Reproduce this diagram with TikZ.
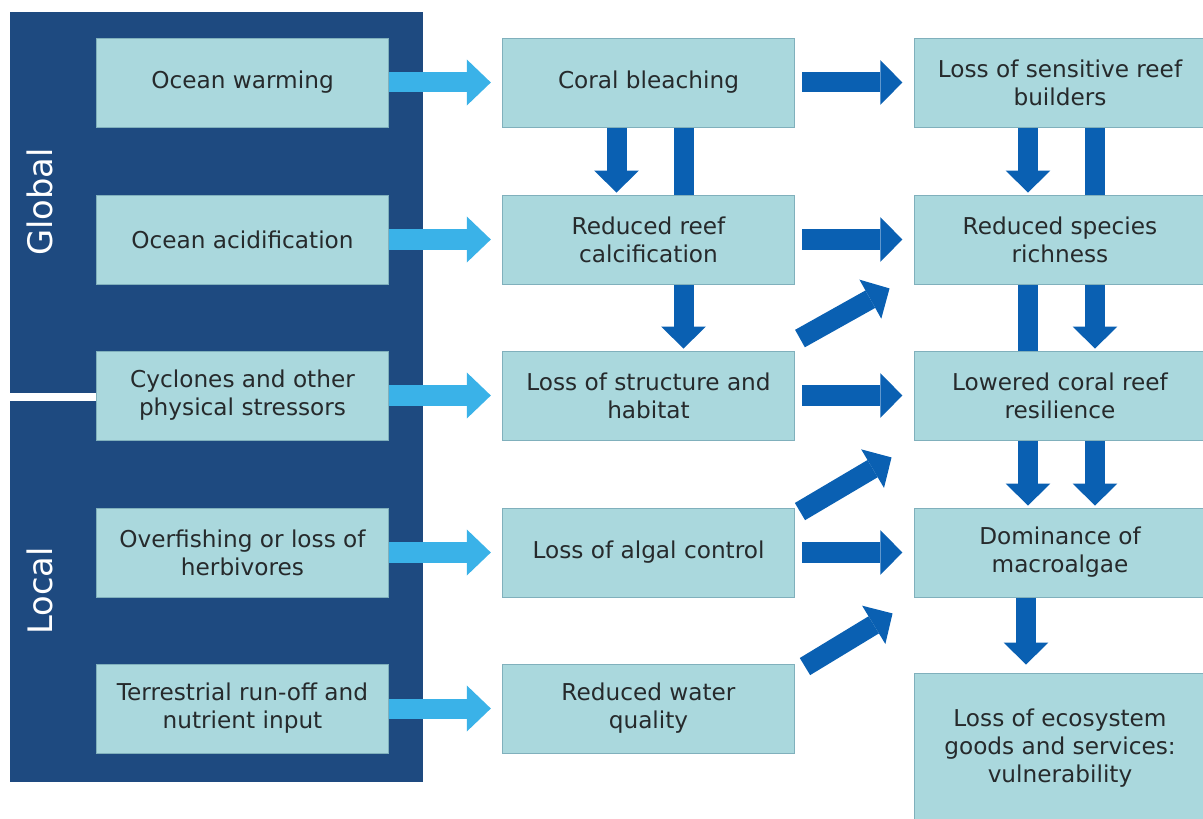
\documentclass[tikz,border=0pt]{standalone}
\usepackage{fontspec}
\setmainfont{DejaVu Sans}
\usetikzlibrary{arrows.meta, positioning, calc}
\pgfdeclarelayer{panels}
\pgfdeclarelayer{flows}
\pgfsetlayers{panels,flows,main}
\definecolor{panelblue}{RGB}{30,74,128}
\definecolor{boxfill}{RGB}{170,216,221}
\definecolor{boxline}{RGB}{128,176,188}
\definecolor{lightarrow}{RGB}{58,178,232}
\definecolor{darkarrow}{RGB}{10,96,178}
\definecolor{boxtext}{RGB}{38,42,44}

\begin{document}
\begin{tikzpicture}[x=0.025cm, y=-0.025cm,
    panel/.style={fill=panelblue, inner sep=0pt, anchor=north west, minimum width=10.325cm, minimum height=9.525cm},
    effect/.style={draw=boxline, line width=0.6pt, fill=boxfill, minimum width=7.3cm, minimum height=2.225cm, inner sep=0pt, align=center, text=boxtext, font=\fontsize{16.5}{20}\selectfont},
    sidelabel/.style={rotate=90, text=white, font=\fontsize{24}{28}\selectfont},
    lightflow/.style={draw=lightarrow, line width=0.5cm, -{Triangle[width=1.15cm, length=0.6cm, line width=0pt]}, shorten >=0.28cm},
    darkflow/.style={draw=darkarrow, line width=0.5cm, -{Triangle[width=1.12cm, length=0.55cm, line width=0pt]}}]
    \useasboundingbox (0,0) rectangle (1203,819);

    % Drivers
    \node [effect] (warm) at (242.5,82.5) {Ocean warming};
    \node [effect] (acid) at (242.5,239.5) {Ocean acidification};
    \node [effect] (cyclo) at (242.5,395.5) {Cyclones and other\\physical stressors};
    \node [effect] (fish) at (242.5,552.5) {Overfishing or loss of\\herbivores};
    \node [effect] (runoff) at (242.5,708.5) {Terrestrial run-off and\\nutrient input};

    % First effects
    \node [effect] (bleach) at (648.5,82.5) {Coral bleaching};
    \node [effect] (calc) at (648.5,239.5) {Reduced reef\\calcification};
    \node [effect] (struct) at (648.5,395.5) {Loss of structure and\\habitat};
    \node [effect] (algal) at (648.5,552.5) {Loss of algal control};
    \node [effect] (water) at (648.5,708.5) {Reduced water\\quality};

    % Reef outcomes
    \node [effect] (sens) at (1060,82.5) {Loss of sensitive reef\\builders};
    \node [effect] (rich) at (1060,239.5) {Reduced species\\richness};
    \node [effect] (resil) at (1060,395.5) {Lowered coral reef\\resilience};
    \node [effect] (domin) at (1060,552.5) {Dominance of\\macroalgae};
    \node [effect, minimum height=3.75cm] (goods) at (1060,748) {Loss of ecosystem\\goods and services:\\vulnerability};

    % Global / local panels
    \begin{pgfonlayer}{panels}
        \node [panel] (global) at (10,12) {};
        \node [panel] (local) at (10,401) {};
    \end{pgfonlayer}
    \node [sidelabel] (globaltxt) at (40,202) {Global};
    \node [sidelabel] (localtxt) at (40,591) {Local};

    \begin{pgfonlayer}{flows}
        \foreach \a/\b in {warm/bleach, acid/calc, cyclo/struct, fish/algal, runoff/water}
            \draw [lightflow] (\a.east) -- (\b.west);
        \foreach \a/\b in {bleach/sens, calc/rich, struct/resil, algal/domin}
            \draw [darkflow, shorten <=0.18cm, shorten >=0.28cm] (\a.east) -- (\b.west);

        % Down the columns
        \draw [darkflow, shorten >=0.05cm] ($(bleach.south)+(-32,0)$) -- ($(calc.north)+(-32,0)$);
        \draw [darkflow, shorten >=0.05cm] ($(bleach.south)+(35,0)$) -- ($(struct.north)+(35,0)$);
        \draw [darkflow, shorten >=0.05cm] ($(sens.south)+(-32,0)$) -- ($(rich.north)+(-32,0)$);
        \draw [darkflow, shorten >=0.05cm] ($(sens.south)+(35,0)$) -- ($(resil.north)+(35,0)$);
        \draw [darkflow, shorten >=0.05cm] ($(rich.south)+(-32,0)$) -- ($(domin.north)+(-32,0)$);
        \draw [darkflow, shorten >=0.05cm] ($(resil.south)+(35,0)$) -- ($(domin.north)+(35,0)$);
        \draw [darkflow, shorten >=0.2cm] ($(domin.south)+(-34,0)$) -- ($(goods.north)+(-34,0)$);

        % Diagonals
        \draw [darkflow] ($(struct.north east)+(5,-12)$) -- ($(rich.south west)+(-24,4)$);
        \draw [darkflow] ($(algal.north east)+(5,4)$) -- ($(resil.south west)+(-22,17)$);
        \draw [darkflow] ($(water.north east)+(10,3)$) -- ($(domin.south west)+(-21,16)$);
    \end{pgfonlayer}
\end{tikzpicture}
\end{document}
